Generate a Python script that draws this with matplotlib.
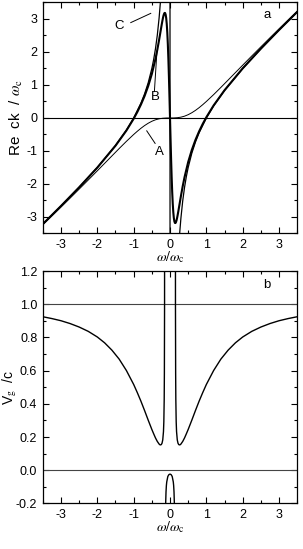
import matplotlib
matplotlib.use("Agg")
import matplotlib.pyplot as plt
from matplotlib.ticker import MultipleLocator, FormatStrFormatter

plt.rcParams['font.family'] = ['Liberation Sans', 'DejaVu Sans']
plt.rcParams['axes.unicode_minus'] = False
plt.rcParams['mathtext.fontset'] = 'stix'

# ---- panel a: Re ck / wc vs w / wc ----
w_A = [-3.5, -3.25, -3.0, -2.75, -2.5, -2.25, -2.0, -1.8, -1.6, -1.4, -1.2, -1.0, -0.9, -0.8, -0.7,
       -0.6, -0.5, -0.4, -0.3, -0.2, -0.1, 0.0, 0.1, 0.2, 0.3, 0.4, 0.5, 0.6, 0.7, 0.8, 0.9, 1.0,
       1.2, 1.4, 1.6, 1.8, 2.0, 2.25, 2.5, 2.75, 3.0, 3.25, 3.5]
k_A = [-3.236, -2.969, -2.700, -2.429, -2.155, -1.879, -1.600, -1.376, -1.151, -0.927, -0.708,
       -0.500, -0.403, -0.312, -0.230, -0.159, -0.100, -0.055, -0.025, -0.008, -0.001, 0.0,
       0.001, 0.008, 0.025, 0.055, 0.100, 0.159, 0.230, 0.312, 0.403, 0.500, 0.708, 0.927,
       1.151, 1.376, 1.600, 1.879, 2.155, 2.429, 2.700, 2.969, 3.236]

w_B = [-3.5, -3.0, -2.5, -2.0, -1.5, -1.2, -1.0, -0.9, -0.8, -0.7, -0.6, -0.5, -0.4, -0.35,
       -0.3, -0.25, -0.23, -0.21, -0.195, -0.18, -0.165, -0.15, -0.135, -0.12, -0.105, -0.09,
       -0.075, -0.06, -0.045, -0.03, -0.015, 0.0, 0.015, 0.03, 0.045, 0.06, 0.075, 0.09, 0.105,
       0.12, 0.135, 0.15, 0.165, 0.18, 0.195, 0.21, 0.23, 0.25, 0.3, 0.35, 0.4, 0.5, 0.6, 0.7,
       0.8, 0.9, 1.0, 1.2, 1.5, 2.0, 2.5, 3.0, 3.5]
k_B = [-3.215, -2.667, -2.101, -1.503, -0.840, -0.380, -0.022, 0.181, 0.408, 0.666, 0.969,
       1.335, 1.792, 2.064, 2.367, 2.691, 2.820, 2.943, 3.027, 3.099, 3.153, 3.183, 3.180,
       3.132, 3.027, 2.851, 2.592, 2.239, 1.790, 1.252, 0.645, 0.0, -0.645, -1.252, -1.790,
       -2.239, -2.592, -2.851, -3.027, -3.132, -3.180, -3.183, -3.153, -3.099, -3.027, -2.943,
       -2.820, -2.691, -2.367, -2.064, -1.792, -1.335, -0.969, -0.666, -0.408, -0.181, 0.022,
       0.380, 0.840, 1.503, 2.101, 2.667, 3.215]

w_C = [-3.5, -3.0, -2.5, -2.0, -1.5, -1.2, -1.0, -0.8, -0.7, -0.6, -0.5, -0.45, -0.4, -0.35,
       -0.3, -0.27, -0.25, -0.2, -0.1, -0.01, 0.01, 0.1, 0.2, 0.25, 0.27, 0.3, 0.35, 0.4, 0.45,
       0.5, 0.6, 0.7, 0.8, 1.0, 1.2, 1.5, 2.0, 2.5, 3.0, 3.5]
k_C = [-3.214, -2.667, -2.100, -1.500, -0.833, -0.367, 0.0, 0.450, 0.729, 1.067, 1.500, 1.772,
       2.100, 2.507, 3.033, 3.434, 3.750, 4.800, 9.900, 99.99, -99.99, -9.900, -4.800, -3.750,
       -3.434, -3.033, -2.507, -2.100, -1.772, -1.500, -1.067, -0.729, -0.450, 0.0, 0.367,
       0.833, 1.500, 2.100, 2.667, 3.214]

# ---- panel b: group velocity ----
w_V_left = [-3.5, -3.25, -3.0, -2.75, -2.5, -2.25, -2.0, -1.8, -1.6, -1.4, -1.2, -1.0, -0.9,
            -0.8, -0.7, -0.6, -0.5, -0.45, -0.4, -0.35, -0.3, -0.28, -0.26, -0.24, -0.22,
            -0.2, -0.18, -0.17, -0.16, -0.155, -0.15, -0.145]
v_V_left = [0.925, 0.914, 0.901, 0.884, 0.863, 0.837, 0.803, 0.768, 0.724, 0.670, 0.601,
            0.517, 0.468, 0.416, 0.360, 0.302, 0.246, 0.220, 0.195, 0.174, 0.158, 0.154,
            0.153, 0.155, 0.163, 0.183, 0.233, 0.292, 0.427, 0.587, 1.0, 4.52]
w_V_mid = [-0.125, -0.12, -0.11, -0.10, -0.09, -0.06, -0.03, 0.0, 0.03, 0.06, 0.09, 0.10,
           0.11, 0.12, 0.125]
v_V_mid = [-0.268, -0.202, -0.130, -0.092, -0.070, -0.037, -0.026, -0.023, -0.026, -0.037,
           -0.070, -0.092, -0.130, -0.202, -0.268]
w_V_right = [0.145, 0.15, 0.155, 0.16, 0.17, 0.18, 0.2, 0.22, 0.24, 0.26, 0.28, 0.3, 0.35,
             0.4, 0.45, 0.5, 0.6, 0.7, 0.8, 0.9, 1.0, 1.2, 1.4, 1.6, 1.8, 2.0, 2.25, 2.5,
             2.75, 3.0, 3.25, 3.5]
v_V_right = [4.52, 1.0, 0.587, 0.427, 0.292, 0.233, 0.183, 0.163, 0.155, 0.153, 0.154, 0.158,
             0.174, 0.195, 0.220, 0.246, 0.302, 0.360, 0.416, 0.468, 0.517, 0.601, 0.670,
             0.724, 0.768, 0.803, 0.837, 0.863, 0.884, 0.901, 0.914, 0.925]

x_ticks = [-3, -2, -1, 0, 1, 2, 3]

fig = plt.figure(figsize=(3.03, 5.49), dpi=100)
axA = fig.add_axes([0.1413, 0.5747, 0.8396, 0.4208])
axB = fig.add_axes([0.1413, 0.0829, 0.8396, 0.4233])

for ax in (axA, axB):
    ax.set_xlim(-3.5, 3.5)
    ax.set_xticks(x_ticks)
    ax.xaxis.set_minor_locator(MultipleLocator(0.5))
    ax.tick_params(which='both', direction='in', top=True, right=True, labelsize=9, width=0.8)
    ax.tick_params(which='major', length=4.0, pad=4)
    ax.tick_params(which='minor', length=2.2)
    for s in ax.spines.values():
        s.set_linewidth(0.9)
    ax.set_xlabel(r'$\omega/\omega_{\mathrm{c}}$', fontsize=10, labelpad=-1)

# panel a
axA.set_ylim(-3.5, 3.5)
axA.yaxis.set_major_locator(MultipleLocator(1))
axA.yaxis.set_minor_locator(MultipleLocator(0.5))
axA.axhline(0, color='black', lw=0.8)
axA.plot(w_A, k_A, color='black', lw=0.7)
axA.plot(w_C, k_C, color='black', lw=0.9)
axA.plot(w_B, k_B, color='black', lw=1.5)
axA.set_ylabel(r'Re  ck  / $\omega_{\mathrm{c}}$', fontsize=11, labelpad=1)
axA.text(2.56, 3.12, 'a', fontsize=9.5, ha='left', va='center')
axA.text(-1.40, 2.79, 'C', fontsize=9.5, ha='center', va='center')
axA.plot([-1.08, -0.53], [2.89, 3.17], color='black', lw=0.7)
axA.text(-0.41, 0.64, 'B', fontsize=9.5, ha='center', va='center')
axA.plot([-0.43, -0.36], [0.80, 2.01], color='black', lw=0.7)
axA.text(-0.29, -1.02, 'A', fontsize=9.5, ha='center', va='center')
axA.plot([-0.64, -0.41], [-0.39, -0.77], color='black', lw=0.7)

# panel b
axB.set_ylim(-0.2, 1.2)
axB.yaxis.set_major_locator(MultipleLocator(0.2))
axB.yaxis.set_minor_locator(MultipleLocator(0.1))
axB.yaxis.set_major_formatter(FormatStrFormatter('%.1f'))
axB.axhline(1.0, color='#444444', lw=0.8)
axB.axhline(0.0, color='#444444', lw=0.8)
axB.plot(w_V_left, v_V_left, color='black', lw=1.0)
axB.plot(w_V_mid, v_V_mid, color='black', lw=1.0)
axB.plot(w_V_right, v_V_right, color='black', lw=1.0)
axB.set_ylabel(r'V$_{\mathrm{g}}$  /c', fontsize=10)
axB.yaxis.set_label_coords(-0.092, 0.5)
axB.text(2.56, 1.116, 'b', fontsize=9.5, ha='left', va='center')

fig.savefig('out.png', dpi=100)
